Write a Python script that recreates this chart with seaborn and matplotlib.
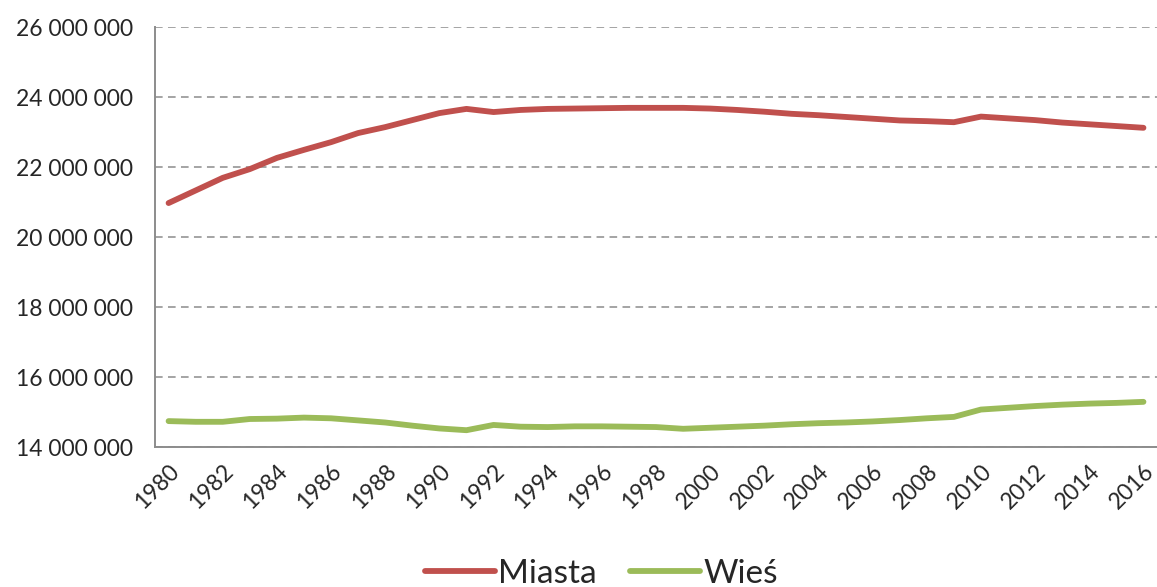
import numpy as np
import pandas as pd
import matplotlib
matplotlib.use("Agg")
import matplotlib.pyplot as plt
import seaborn as sns

years = list(range(1980, 2017))

miasta = [20.97, 21.33, 21.69, 21.94, 22.26, 22.49, 22.71, 22.97, 23.14, 23.34,
          23.54, 23.66, 23.57, 23.63, 23.66, 23.67, 23.68, 23.69, 23.69, 23.69,
          23.67, 23.63, 23.58, 23.52, 23.48, 23.43, 23.38, 23.33, 23.31, 23.28,
          23.44, 23.39, 23.34, 23.27, 23.22, 23.17, 23.12]

wies = [14.74, 14.72, 14.72, 14.80, 14.81, 14.84, 14.82, 14.76, 14.70, 14.61,
        14.53, 14.48, 14.63, 14.58, 14.57, 14.59, 14.59, 14.58, 14.57, 14.52,
        14.55, 14.58, 14.61, 14.65, 14.68, 14.70, 14.73, 14.77, 14.82, 14.86,
        15.07, 15.12, 15.17, 15.21, 15.24, 15.26, 15.29]

series_names = ["Miasta", "Wieś"]
colors = ["#C0504D", "#9BBB59"]

df = pd.DataFrame({
    "rok": years * 2,
    "ludnosc": np.array(miasta + wies) * 1e6,
    "typ": [series_names[0]] * len(years) + [series_names[1]] * len(years),
})

sns.set_style("white")
plt.rcParams["font.family"] = ["Lato", "DejaVu Sans"]

fig = plt.figure(figsize=(11.57, 5.87), dpi=100)
ax = fig.add_axes([0.134, 0.2385, 0.866, 0.7155])

sns.lineplot(data=df, x="rok", y="ludnosc", hue="typ", palette=colors,
             linewidth=4.2, ax=ax, solid_capstyle="round", legend=True)

ax.set_ylim(14e6, 26e6)
ax.set_xlim(1979.5, 2016.5)
yt = np.arange(14e6, 26e6 + 1, 2e6)
ax.set_yticks(yt)
ax.set_yticklabels([f"{int(v):,}".replace(",", " ") for v in yt], fontsize=16.5)
ax.yaxis.grid(True, color="#8c8c8c", linestyle=(0, (5, 3.5)), linewidth=1.1)
ax.xaxis.grid(False)
ax.tick_params(axis="y", direction="inout", length=8, width=1.1, color="#8c8c8c", pad=12)

# category-style ticks: marks between years, labels every 2nd year
ax.set_xticks([y for y in years if y % 2 == 0])
ax.set_xticklabels([str(y) for y in years if y % 2 == 0], rotation=45, fontsize=16.5,
                   ha="right", rotation_mode="anchor")
ax.set_xticks(np.arange(1980.5, 2016.5, 1), minor=True)
ax.tick_params(axis="x", which="major", length=0, pad=10)
ax.tick_params(axis="x", which="minor", direction="out", length=8, width=1.1, color="#8c8c8c")

for s in ["top", "right"]:
    ax.spines[s].set_visible(False)
for s in ["left", "bottom"]:
    ax.spines[s].set_color("#8c8c8c")
    ax.spines[s].set_linewidth(1.4)

ax.set_xlabel("")
ax.set_ylabel("")
handles, labels = ax.get_legend_handles_labels()
ax.get_legend().remove()
leg = fig.legend(handles, labels, loc="center", bbox_to_anchor=(0.52, 0.022), ncol=2,
                 frameon=False, fontsize=24, handlelength=2.1, handletextpad=0.1,
                 columnspacing=1.0)
for line in leg.get_lines():
    line.set_linewidth(4.2)
    line.set_solid_capstyle("round")

fig.savefig("out.png", dpi=100)
